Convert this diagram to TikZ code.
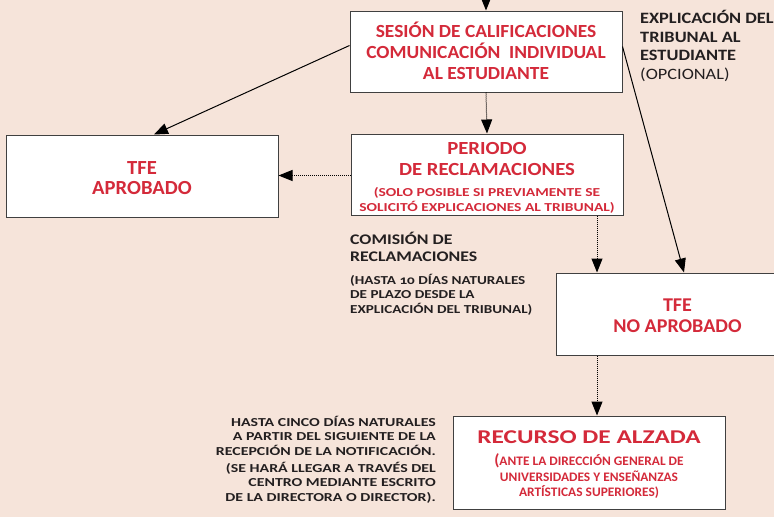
\documentclass[tikz,border=0pt]{standalone}
\usepackage{fontspec}
\setmainfont{Carlito}
\newfontfamily\sA[FakeStretch=1.03]{Carlito}
\newfontfamily\sB[FakeStretch=1.05]{Carlito}
\newfontfamily\sC[FakeStretch=1.12]{Carlito}
\newfontfamily\sD[FakeStretch=1.16]{Carlito}
\newfontfamily\sE[FakeStretch=1.21]{Carlito}
\newfontfamily\sF[FakeStretch=1.24,Numbers=OldStyle]{Carlito}
\newfontfamily\sG[FakeStretch=1.27]{Carlito}
\newfontfamily\sH[FakeStretch=1.30]{Carlito}
\usetikzlibrary{arrows.meta}
\definecolor{bg}{HTML}{F6E4DA}
\definecolor{tred}{HTML}{D42A3A}
\definecolor{tblk}{HTML}{231F20}
\lineskiplimit=-30pt
\newcommand{\tp}[1]{\rule{0pt}{#1}}
\newcommand{\fsm}{\sG\bfseries\fontsize{12.2}{15}\selectfont}
\newcommand{\fcm}{\sF\bfseries\fontsize{12.2}{15}\selectfont}
\newcommand{\frs}{\sA\bfseries\fontsize{13}{16}\selectfont}
\newcommand{\fex}{\sD\bfseries\fontsize{15.8}{18.5}\selectfont}
\tikzset{
  box/.style={draw=black!75, line width=1pt, fill=white, inner sep=0pt},
  txt/.style={inner sep=0pt, align=center, text=tred, anchor=north},
  solidarrow/.style={line width=1pt, -{Triangle[length=14pt,width=11pt]}},
  dotarrow/.style={line width=1pt, dash pattern=on 1pt off 1pt, -{Triangle[length=14pt,width=11pt]}},
  lbl/.style={inner sep=0pt, text=tblk},
}
\begin{document}
\begin{tikzpicture}[x=1pt,y=-1pt]
\fill[bg] (0,0) rectangle (774,517);
\useasboundingbox (0,0) rectangle (774,517);

% boxes
\node[box, minimum width=272pt, minimum height=81pt] (s1) at (486,51.5) {};
\node[box, minimum width=272pt, minimum height=81pt] (p) at (487,174.5) {};
\node[box, minimum width=272pt, minimum height=82pt] (ap) at (142,176) {};
\node[box, minimum width=244pt, minimum height=82pt] (na) at (678,314) {};
\node[box, minimum width=272pt, minimum height=93pt] (r) at (589,462.5) {};

% box texts
\node[txt, font=\sB\bfseries\fontsize{18.5}{21}\selectfont] (s1t) at (486,18.4)
  {\tp{18.5pt}SESIÓN DE CALIFICACIONES\\COMUNICACIÓN\ \ INDIVIDUAL\\AL ESTUDIANTE};

\node[txt, font=\sC\bfseries\fontsize{18.5}{21}\selectfont] (pt) at (487,135.4)
  {\tp{18.5pt}PERIODO\\DE RECLAMACIONES\\\fsm (SOLO POSIBLE SI PREVIAMENTE SE\\[-6pt]\fsm SOLICITÓ EXPLICACIONES AL TRIBUNAL)};

\node[txt, font=\sA\bfseries\fontsize{20}{20.5}\selectfont] (apt) at (142,153.8)
  {\tp{20pt}TFE\\APROBADO};

\node[txt, font=\sA\bfseries\fontsize{19.5}{21}\selectfont] (nat) at (677.5,291.7)
  {\tp{19.5pt}TFE\\NO APROBADO};

\node[txt, font=\sH\bfseries\fontsize{19.5}{21.6}\selectfont] (rt) at (589,423.7)
  {\tp{19.5pt}RECURSO DE ALZADA\\\frs{\fontsize{16}{16}\selectfont(}ANTE LA DIRECCIÓN GENERAL DE\\[-5.6pt]\frs UNIVERSIDADES Y ENSEÑANZAS\\[-5.8pt]\frs ARTÍSTICAS SUPERIORES)};

% side labels
\node[lbl, anchor=north west, align=left, font=\sD\fontsize{15.8}{18.5}\selectfont] (ex) at (640,7.5)
  {\tp{15.8pt}\fex EXPLICACIÓN DEL\\\fex TRIBUNAL AL\\\fex ESTUDIANTE\\(OPCIONAL)};

\node[lbl, anchor=north west, align=left, font=\sE\bfseries\fontsize{14.7}{16.7}\selectfont] (cm) at (350,229.6)
  {\tp{14.7pt}COMISIÓN DE\\RECLAMACIONES\\[6.7pt]\fcm (HASTA 10 DÍAS NATURALES\\[-2.5pt]\fcm DE PLAZO DESDE LA\\[-2.4pt]\fcm EXPLICACIÓN DEL TRIBUNAL)};

\node[lbl, anchor=north east, align=right, font=\sH\bfseries\fontsize{12.2}{14.5}\selectfont] (hc) at (436,413.7)
  {\tp{12.2pt}HASTA CINCO DÍAS NATURALES\\A PARTIR DEL SIGUIENTE DE LA\\RECEPCIÓN DE LA NOTIFICACIÓN.\\[2.5pt](SE HARÁ LLEGAR A TRAVÉS DEL\\CENTRO MEDIANTE ESCRITO\\DE LA DIRECTORA O DIRECTOR).};

% connectors
\coordinate (top) at (486,-20);
\draw[solidarrow] (top) -- (s1.north);
\draw[dotarrow] (s1.south) -- (p.north);
\draw[solidarrow] ([yshift=6pt]s1.west) -- ([xshift=12pt]ap.north);
\draw[dotarrow] ([yshift=-1pt]p.west) -- ([yshift=-1pt]p.west -| ap.east);
\draw[solidarrow] ([yshift=5pt]s1.east) -- ([xshift=6pt]na.north);
\draw[dotarrow] ([xshift=110pt]p.south) -- ([xshift=-81pt]na.north);
\draw[dotarrow] ([xshift=-81pt]na.south) -- ([xshift=8pt]r.north);
\end{tikzpicture}
\end{document}
